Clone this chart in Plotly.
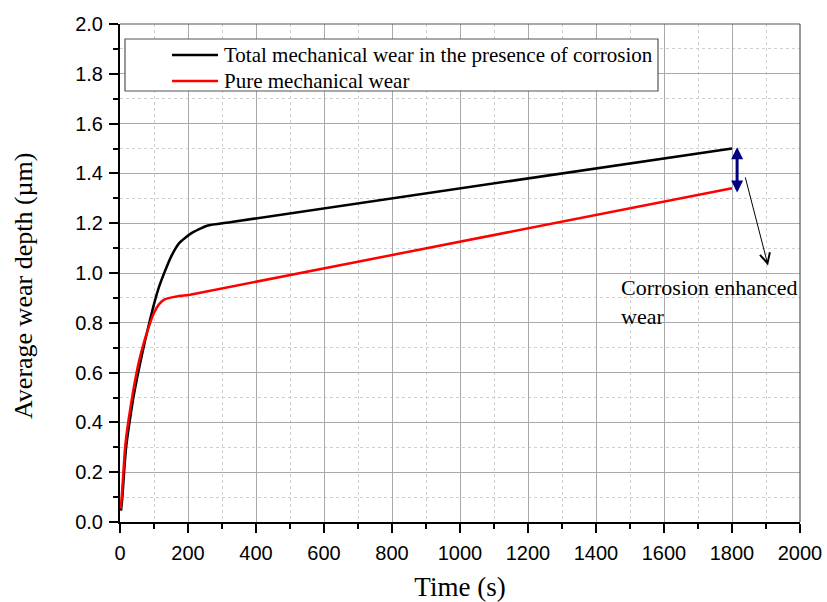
import plotly.graph_objects as go

# Data
black_t = [3, 7, 12, 18, 28, 42, 58, 74, 88, 101, 115, 130, 150, 174, 208, 256, 328, 1800]
black_v = [0.046, 0.10, 0.20, 0.30, 0.40, 0.52, 0.63, 0.73, 0.81, 0.88, 0.945, 1.0, 1.065, 1.12, 1.158, 1.19, 1.205, 1.50]

red_t = [2, 5, 10, 15, 24, 38, 55, 70, 85, 100, 115, 130, 160, 206, 1800]
red_v = [0.053, 0.10, 0.20, 0.30, 0.40, 0.52, 0.64, 0.72, 0.785, 0.84, 0.875, 0.893, 0.904, 0.913, 1.34]

black_name = "Total mechanical wear in the presence of corrosion"
red_name = "Pure mechanical wear"
x_title = "Time (s)"
y_title = "Average wear depth (µm)"
note_text = "Corrosion enhanced<br>wear"

W, H = 827, 602
L, R, T, B = 120, 27, 24, 80
pw, ph = W - L - R, H - T - B

def px_to_paper_x(p):
    return (p - L) / pw

def px_to_paper_y(p):
    return 1 - (p - T) / ph

serif = "Liberation Serif, Times New Roman, serif"
sans = "Liberation Sans, Arial, sans-serif"

fig = go.Figure()
fig.add_trace(go.Scatter(x=black_t, y=black_v, mode="lines", name=black_name,
                         line=dict(color="black", width=2.5, shape="spline", smoothing=0.5)))
fig.add_trace(go.Scatter(x=red_t, y=red_v, mode="lines", name=red_name,
                         line=dict(color="#ff0000", width=2.5, shape="spline", smoothing=0.5)))

axis_common = dict(
    showline=True, linecolor="black", linewidth=2,
    ticks="outside", ticklen=9, tickwidth=1.5, tickcolor="black",
    showgrid=True, gridcolor="#a9a9a9", gridwidth=1,
    zeroline=False, automargin=False,
    tickfont=dict(family=sans, size=20, color="black"),
)

fig.update_xaxes(range=[0, 2000], dtick=200, tick0=0, ticklabelstandoff=3,
                 minor=dict(dtick=100, ticks="outside", ticklen=5, tickcolor="black",
                            showgrid=True, gridcolor="#cfcfcf", griddash="dot", gridwidth=1),
                 title=dict(text=x_title, font=dict(family=serif, size=27, color="black"), standoff=29),
                 **axis_common)
fig.update_yaxes(range=[0, 2.0], dtick=0.2, tick0=0, tickformat=".1f", ticklabelstandoff=2,
                 minor=dict(dtick=0.1, ticks="outside", ticklen=5, tickcolor="black",
                            showgrid=True, gridcolor="#cfcfcf", griddash="dot", gridwidth=1),
                 **axis_common)

# y-axis title placed as rotated text (sits slightly below the plot centre in the reference)
fig.add_annotation(x=px_to_paper_x(23), y=px_to_paper_y(286), xref="paper", yref="paper",
                   xanchor="center", yanchor="middle", textangle=-90, text=y_title,
                   showarrow=False, font=dict(family=serif, size=26, color="black"))

# mirror frame (top and right) in gray
fig.add_shape(type="line", xref="paper", yref="paper", x0=0, x1=1, y0=1, y1=1,
              line=dict(color="#555555", width=1.2))
fig.add_shape(type="line", xref="paper", yref="paper", x0=1, x1=1, y0=0, y1=1,
              line=dict(color="#555555", width=1.2))

# legend drawn manually: box, line samples and labels
fig.add_shape(type="rect", xref="paper", yref="paper",
              x0=px_to_paper_x(125), x1=px_to_paper_x(658),
              y0=px_to_paper_y(91), y1=px_to_paper_y(39),
              line=dict(color="#555555", width=1.2), fillcolor="white", layer="above")
legend_items = [(black_name, "black", 55), (red_name, "#ff0000", 81)]
for name, col, yp in legend_items:
    fig.add_shape(type="line", xref="paper", yref="paper",
                  x0=px_to_paper_x(172), x1=px_to_paper_x(218),
                  y0=px_to_paper_y(yp), y1=px_to_paper_y(yp),
                  line=dict(color=col, width=2.5), layer="above")
    fig.add_annotation(x=px_to_paper_x(222), y=px_to_paper_y(yp), xref="paper", yref="paper",
                       xanchor="left", yanchor="middle", text=name, showarrow=False,
                       font=dict(family=serif, size=21, color="black"))

fig.update_layout(
    width=W, height=H,
    margin=dict(l=L, r=R, t=T, b=B),
    paper_bgcolor="white", plot_bgcolor="white",
    showlegend=False,
)

# double-headed navy arrow
fig.add_annotation(x=1815, y=1.505, ax=1815, ay=1.317, xref="x", yref="y", axref="x", ayref="y",
                   text="", showarrow=True, arrowhead=2, startarrowhead=2, arrowside="end+start",
                   arrowcolor="#000080", arrowwidth=3, arrowsize=0.8, startarrowsize=0.8)
# thin pointer arrow
fig.add_annotation(x=1906, y=1.03, ax=1838, ay=1.39, xref="x", yref="y", axref="x", ayref="y",
                   text="", showarrow=True, arrowhead=5, arrowcolor="black", arrowwidth=1, arrowsize=2)
# note text
fig.add_annotation(x=1468, y=1.0, xref="x", yref="y", xanchor="left", yanchor="top", align="left",
                   text=note_text, showarrow=False,
                   font=dict(family=serif, size=22, color="black"))

fig.write_html("out.html")
